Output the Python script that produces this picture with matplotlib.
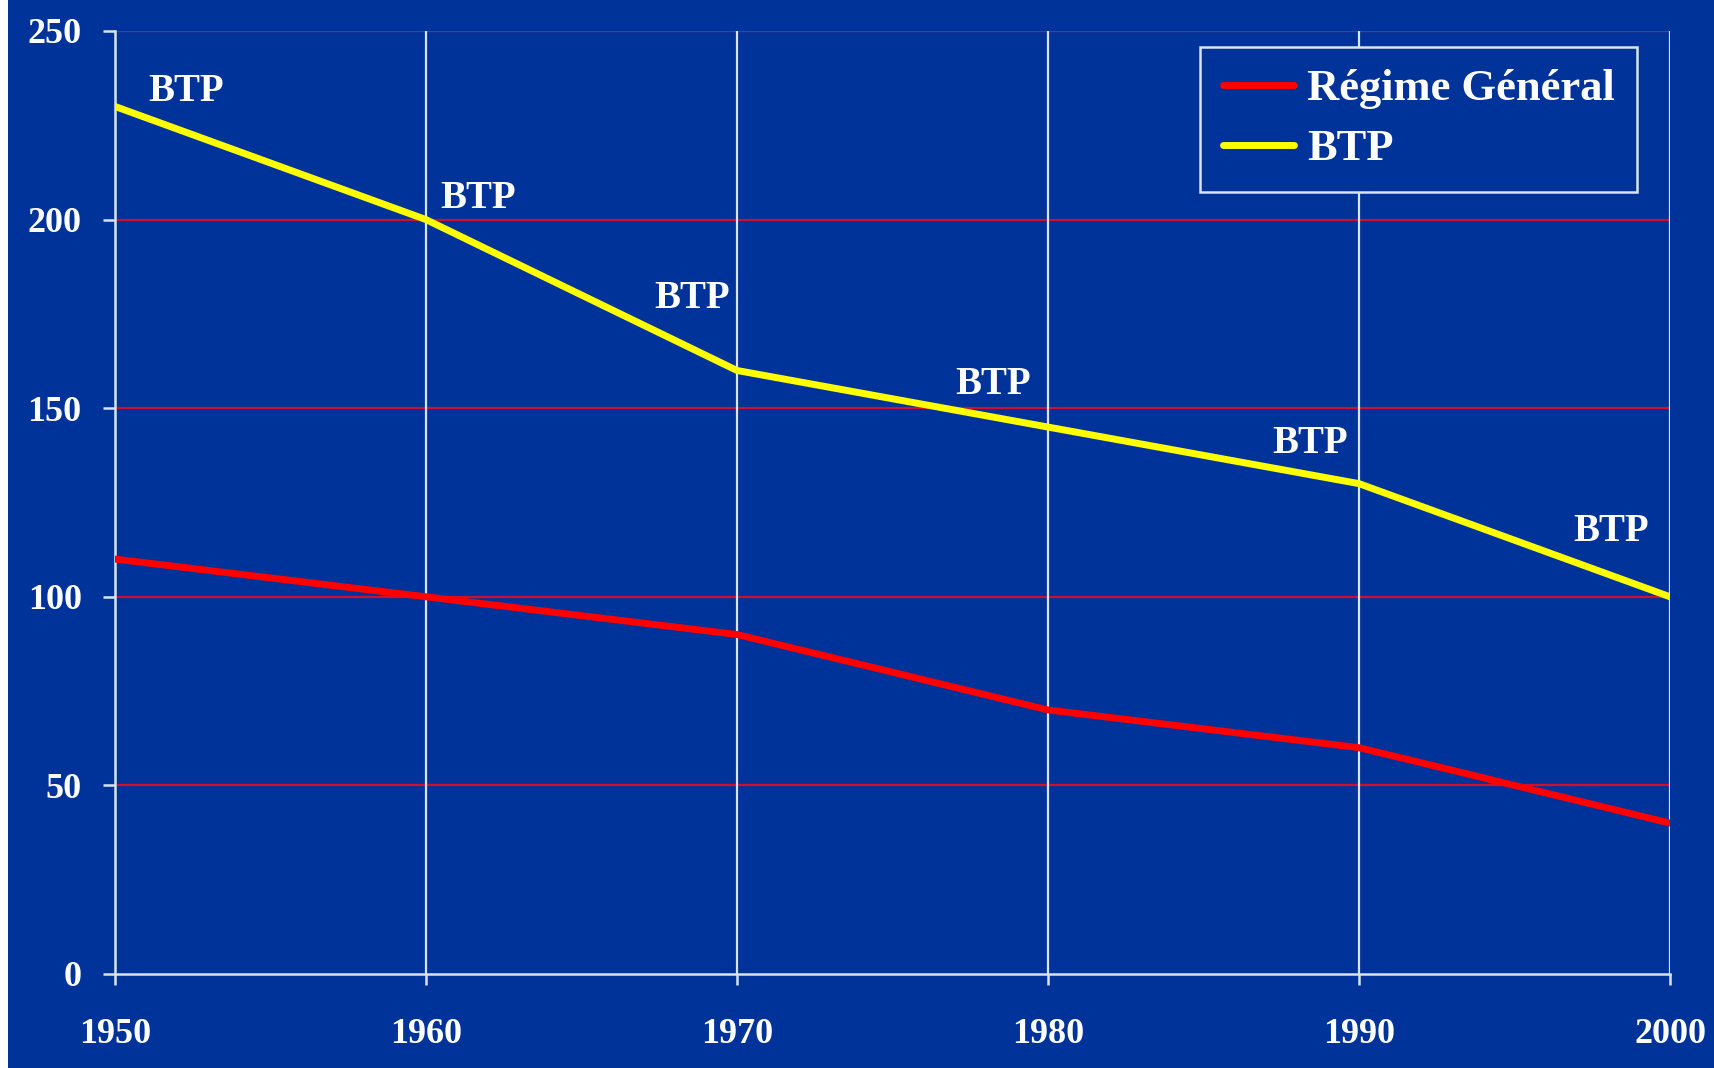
import matplotlib
matplotlib.use('Agg')
import matplotlib.pyplot as plt
from matplotlib.patches import Rectangle

years = [1950, 1960, 1970, 1980, 1990, 2000]
regime_general = [110, 100, 90, 70, 60, 40]
btp = [230, 200, 160, 145, 130, 100]
series_names = ['Régime Général', 'BTP']
point_label = 'BTP'

# pixel offsets of the "BTP" point labels
label_offsets = [(71, 15), (52, 21), (-45, 72), (-55, 43), (-49, 40), (-59, 65)]

bg = '#003399'
light = '#d8e4f4'

plt.rcParams.update({
    'font.family': ['Liberation Serif', 'DejaVu Serif'],
    'font.weight': 'bold',
})

fig = plt.figure(figsize=(17.15, 10.68), dpi=100, facecolor=bg)
ax = fig.add_axes([115 / 1715, 94 / 1068, 1555 / 1715, 943 / 1068])
ax.set_facecolor(bg)

# white strip on the left edge of the slide
fig.patches.append(Rectangle((0, 0), 8 / 1715, 1, transform=fig.transFigure,
                             facecolor='white', edgecolor='none', zorder=0))

ax.set_xlim(1950, 2000)
ax.set_ylim(0, 250)
ax.set_xticks(years)
ax.set_yticks(range(0, 251, 50))

for y in range(50, 251, 50):
    ax.axhline(y, color='#cc1030', linewidth=1.6, zorder=1)
for x in years[1:]:
    ax.axvline(x, color=light, linewidth=1.6, zorder=1)

ax.plot(years, regime_general, color='#ff0000', linewidth=5, label=series_names[0],
        solid_capstyle='round', zorder=3)
ax.plot(years, btp, color='#ffff00', linewidth=5, label=series_names[1],
        solid_capstyle='round', zorder=3)

for x, y, (dx, dy) in zip(years, btp, label_offsets):
    ax.annotate(point_label, xy=(x, y), xytext=(dx, dy), textcoords='offset pixels',
                ha='center', va='center', fontsize=28, fontweight='bold',
                color='white', zorder=4)

for side in ['top', 'right']:
    ax.spines[side].set_visible(False)
for side in ['left', 'bottom']:
    ax.spines[side].set_color(light)
    ax.spines[side].set_linewidth(1.8)

ax.tick_params(axis='both', colors=light, width=1.8, labelcolor='white', labelsize=26)
ax.tick_params(axis='x', length=8, pad=24)
ax.tick_params(axis='y', length=9, pad=15)
for lab in ax.get_xticklabels() + ax.get_yticklabels():
    lab.set_fontweight('bold')

leg = ax.legend(loc='upper right', bbox_to_anchor=(0.9788, 0.983), borderaxespad=0,
                fontsize=32, frameon=True, fancybox=False, handlelength=1.6,
                handletextpad=0.3, borderpad=0.5, labelspacing=0.45,
                facecolor=bg, edgecolor=light, framealpha=1)
leg.get_frame().set_linewidth(1.8)
for t in leg.get_texts():
    t.set_color('white')
    t.set_fontweight('bold')

fig.savefig('out.png', dpi=100, facecolor=bg)
